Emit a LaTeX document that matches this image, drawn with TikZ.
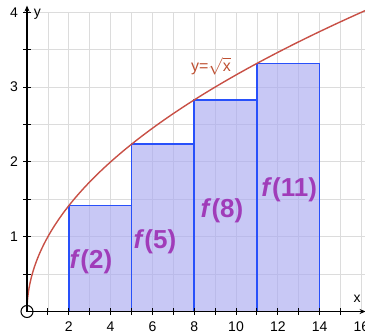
\documentclass[tikz,border=0pt]{standalone}
\usepackage{fontspec}
\setmainfont{Liberation Sans}
\usetikzlibrary{arrows.meta}
\definecolor{gridgray}{RGB}{220,220,220}
\definecolor{rectfill}{RGB}{170,170,240}
\definecolor{rectedge}{RGB}{40,80,250}
\definecolor{curvered}{RGB}{200,80,70}
\definecolor{labpurple}{RGB}{160,60,185}
\definecolor{eqred}{RGB}{190,80,50}
\tikzset{
  gridline/.style={gridgray, line width=0.8pt},
  axisline/.style={black, line width=1.1pt},
  tickmark/.style={black, line width=0.9pt},
  ticklab/.style={font=\fontsize{14}{15}\selectfont, inner sep=0pt},
  bar/.style={fill=rectfill, fill opacity=0.65, draw=rectedge, line width=1.5pt},
  flab/.style={font=\fontsize{26}{28}\selectfont\bfseries, text=labpurple, inner sep=0pt},
  curve/.style={curvered, line width=1.4pt}
}
\begin{document}
\begin{tikzpicture}[x=20.9pt,y=74.8pt]
\useasboundingbox (-1.292,-0.2607) rectangle (16.172,4.1644);
% grid
\foreach \i in {1,...,16} \draw[gridline] (\i,0) -- (\i,4);
\foreach \j in {0.5,1,...,4} \draw[gridline] (0,\j) -- (16.2,\j);
% bars
\draw[bar] (2,0) rectangle (5,{sqrt(2)});
\draw[bar] (5,0) rectangle (8,{sqrt(5)});
\draw[bar] (8,0) rectangle (11,{sqrt(8)});
\draw[bar] (11,0) rectangle (14,{sqrt(11)});
% curve
\draw[curve] plot[domain=0:16.2, samples=200, variable=\t] ({\t*\t/16.2},{sqrt(\t*\t/16.2)});
% axes
\coordinate (xs) at (0,0);
\coordinate (xe) at (16.2,0);
\coordinate (ye) at (0,4.09);
\draw[axisline, -{Stealth[length=6pt,width=5pt]}] (xs) -- (xe);
\draw[axisline, -{Stealth[length=6pt,width=5pt]}] (xs) -- (ye);
\foreach \i in {1,...,15} \draw[tickmark] (\i,-0.045) -- (\i,0.045);
\foreach \j in {0.5,1,...,4} \draw[tickmark] (-0.17,\j) -- (0.17,\j);
\foreach \i in {2,4,...,16} \node[ticklab] (xl\i) at (\i,-0.2) {\i};
\foreach \j in {1,2,3,4} \node[ticklab, anchor=east] (yl\j) at (-0.43,\j) {\j};
\node[ticklab] (ylab) at (0.5,3.98) {y};
\node[ticklab] (xlab) at (15.8,0.17) {x};
\node[draw, circle, line width=1pt, minimum size=12pt, inner sep=0pt] (origin) at (0,0) {};
% labels
\node[flab] (f2) at (3.06,0.666) {\textit{f}(2)};
\node[flab] (f5) at (6.12,0.93) {\textit{f}(5)};
\node[flab] (f8) at (9.33,1.343) {\textit{f}(8)};
\node[flab] (f11) at (12.54,1.63) {\textit{f}(11)};
\node[font=\fontsize{16}{17}\selectfont, text=eqred, inner sep=0pt] (eq) at (8.8,3.28) {y=$\sqrt{\hbox{x}}$};
\end{tikzpicture}
\end{document}
